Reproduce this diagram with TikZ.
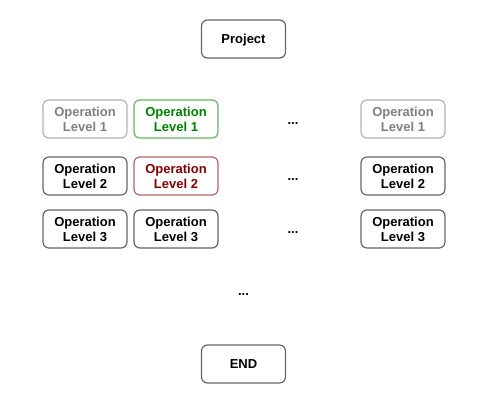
\documentclass[tikz,border=0pt]{standalone}
\usepackage{fontspec}
\setmainfont{Liberation Sans}
\definecolor{boxdark}{HTML}{666666}
\definecolor{boxlight}{HTML}{B3B3B3}
\definecolor{textgray}{HTML}{808080}
\definecolor{boxgreen}{HTML}{66B366}
\definecolor{textgreen}{HTML}{008000}
\definecolor{boxred}{HTML}{B36666}
\definecolor{textred}{HTML}{800000}
\tikzset{
  opbox/.style={draw=boxdark, line width=1.2pt, rounded corners=6pt, fill=white,
    minimum width=84pt, minimum height=38pt, inner sep=0pt, align=center,
    font=\fontsize{13pt}{15pt}\selectfont\bfseries, text=black},
  single/.style={text height=9.5pt, text depth=0pt},
  grayop/.style={opbox, draw=boxlight, text=textgray},
  greenop/.style={opbox, draw=boxgreen, text=textgreen},
  redop/.style={opbox, draw=boxred, text=textred},
  dotsnode/.style={font=\fontsize{13pt}{15pt}\selectfont\bfseries, inner sep=0pt}
}
\begin{document}
\begin{tikzpicture}[x=1pt,y=-1pt]
\useasboundingbox (0,0) rectangle (490,407);
\node[opbox, single] (project) at (243.5,39) {Project};
\node[grayop] (a1) at (85,119) {Operation\\Level 1};
\node[greenop] (b1) at (176,119) {Operation\\Level 1};
\node[dotsnode] (c1) at (293,124) {...};
\node[grayop] (d1) at (403,119) {Operation\\Level 1};
\node[opbox] (a2) at (85,176) {Operation\\Level 2};
\node[redop] (b2) at (176,176) {Operation\\Level 2};
\node[dotsnode] (c2) at (293,180) {...};
\node[opbox] (d2) at (403,176) {Operation\\Level 2};
\node[opbox] (a3) at (85,229) {Operation\\Level 3};
\node[opbox] (b3) at (176,229) {Operation\\Level 3};
\node[dotsnode] (c3) at (293,233) {...};
\node[opbox] (d3) at (403,229) {Operation\\Level 3};
\node[dotsnode] (mid) at (243.5,295) {...};
\node[opbox, single] (end) at (243.5,364) {END};
\end{tikzpicture}
\end{document}
